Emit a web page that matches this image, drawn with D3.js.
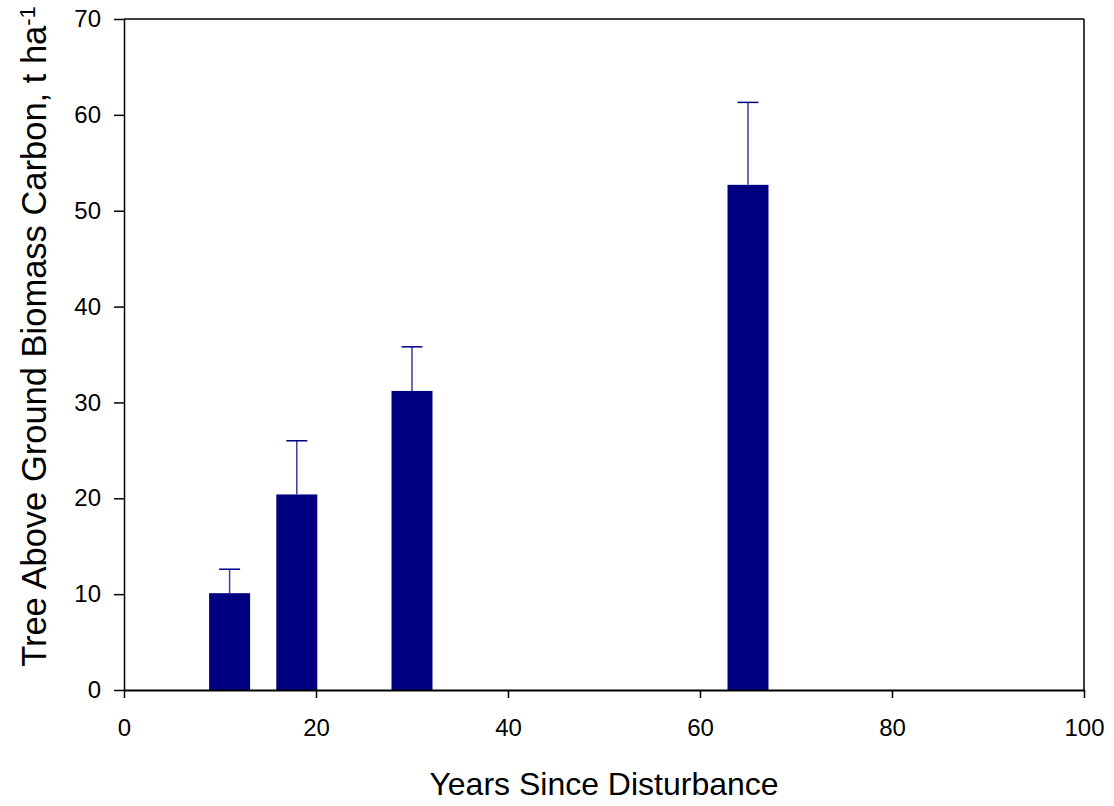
<!DOCTYPE html>
<html>
    <head>
        <meta charset="utf-8">
        <title>Tree Above Ground Biomass Carbon</title>
        <script src="https://d3js.org/d3.v7.min.js"></script>
        <style>
            body { margin: 0; background: white; }
            text { font-family: "Liberation Sans", Arial, sans-serif; }
        </style>
    </head>
    <body>
        <div id="chart"></div>
        <script>
            // values
            var years = [11, 18, 30, 65];
            var carbon = [10.1, 20.4, 31.2, 52.7];
            var errors = [2.5, 5.6, 4.6, 8.6];
            var xTicks = [0, 20, 40, 60, 80, 100];
            var yTicks = [0, 10, 20, 30, 40, 50, 60, 70];

            var margin = {top: 19, right: 30, bottom: 116, left: 124}
            var width = 1114 - margin.left - margin.right
            var height = 806 - margin.top - margin.bottom

            var svg = d3.select("#chart")
                .append("svg")
                .attr("width", 1114)
                .attr("height", 806)
                .append("g")
                .attr("transform", "translate(" + margin.left + "," + margin.top + ")");

            var x = d3.scaleLinear().domain([0, 100]).range([0, width]);
            var y = d3.scaleLinear().domain([0, 70]).range([height, 0]);
            var barW = x(4.27) - x(0);

            // frame top and right
            svg.append("line")
                .attr("x1", x(0)).attr("x2", x(100))
                .attr("y1", y(70)).attr("y2", y(70))
                .attr("stroke", "black").attr("stroke-width", 1.5);
            svg.append("line")
                .attr("x1", x(100)).attr("x2", x(100))
                .attr("y1", y(70)).attr("y2", y(0))
                .attr("stroke", "black").attr("stroke-width", 1.5);

            // bars
            svg.selectAll("rect.bar")
                .data(years)
                .enter()
                .append("rect")
                .attr("class", "bar")
                .attr("x", function(d) { return x(d) - barW / 2; })
                .attr("y", function(d, i) { return y(carbon[i]); })
                .attr("width", barW)
                .attr("height", function(d, i) { return y(0) - y(carbon[i]); })
                .attr("fill", "#000080");

            // error bars (upper only)
            svg.selectAll("line.stem")
                .data(years)
                .enter()
                .append("line")
                .attr("x1", function(d) { return x(d); })
                .attr("x2", function(d) { return x(d); })
                .attr("y1", function(d, i) { return y(carbon[i]); })
                .attr("y2", function(d, i) { return y(carbon[i] + errors[i]); })
                .attr("stroke", "#3a3aa0").attr("stroke-width", 1.5);
            svg.selectAll("line.cap")
                .data(years)
                .enter()
                .append("line")
                .attr("x1", function(d) { return x(d) - 10.5; })
                .attr("x2", function(d) { return x(d) + 10.5; })
                .attr("y1", function(d, i) { return y(carbon[i] + errors[i]); })
                .attr("y2", function(d, i) { return y(carbon[i] + errors[i]); })
                .attr("stroke", "#000080").attr("stroke-width", 1.5);

            // X axis
            var xAxis = svg.append("g")
                .attr("transform", "translate(0," + height + ")")
                .call(d3.axisBottom(x).tickValues(xTicks).tickSize(8).tickPadding(21).tickSizeOuter(0));
            xAxis.select(".domain").attr("stroke-width", 2);
            xAxis.selectAll(".tick line").attr("stroke-width", 1.5);
            xAxis.selectAll("text")
                .style("font-size", "24px")
                .attr("fill", "black");

            // Y axis
            var yAxis = svg.append("g")
                .call(d3.axisLeft(y).tickValues(yTicks).tickSize(10).tickPadding(13).tickSizeOuter(0));
            yAxis.select(".domain").attr("stroke-width", 1.5);
            yAxis.selectAll(".tick line").attr("stroke-width", 1.5);
            yAxis.selectAll("text")
                .style("font-size", "24px")
                .attr("fill", "black");

            // X label
            svg.append("text")
                .attr("x", width / 2)
                .attr("y", height + 105)
                .style("font-size", "32px")
                .style("text-anchor", "middle")
                .text("Years Since Disturbance");

            // Y label with superscript
            var yl = svg.append("text")
                .attr("transform", "translate(" + (-78) + "," + (height / 2 - 18) + ")rotate(-90)")
                .style("font-size", "34.5px")
                .style("text-anchor", "middle");
            yl.append("tspan").text("Tree Above Ground Biomass Carbon, t ha");
            yl.append("tspan")
                .attr("dy", "-0.5em")
                .style("font-size", "22px")
                .text("-1");
        </script>
    </body>
</html>
